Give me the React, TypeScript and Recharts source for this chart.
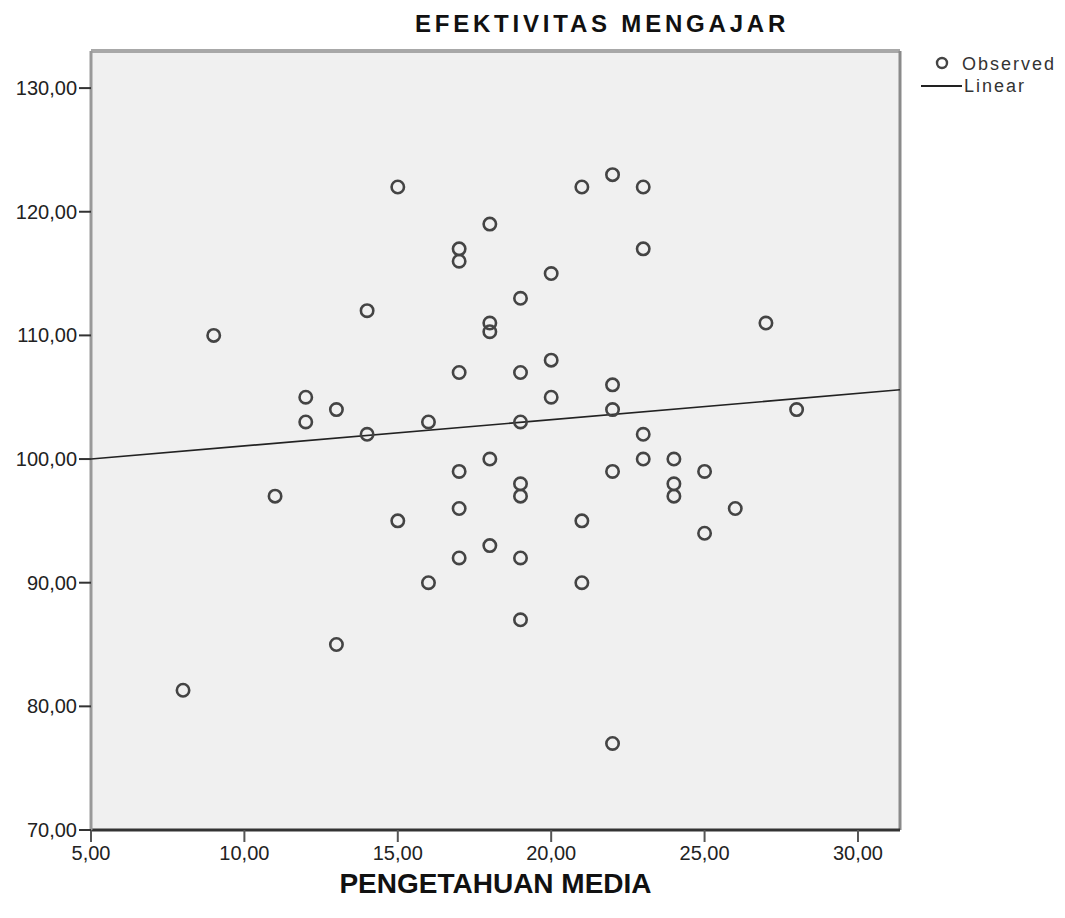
import React from 'react';
import {
  ScatterChart,
  Scatter,
  XAxis,
  YAxis,
  CartesianGrid,
  ReferenceLine,
} from 'recharts';

// PENGETAHUAN MEDIA (x) values for each observed case
const pengetahuanMedia = [
  8, 9, 11, 12, 12, 13, 13, 14, 14, 15, 15, 16, 16, 17, 17, 17, 17, 17, 17,
  18, 18, 18, 18, 18, 19, 19, 19, 19, 19, 19, 19, 20, 20, 20, 21, 21, 21,
  22, 22, 22, 22, 22, 23, 23, 23, 23, 24, 24, 24, 25, 25, 26, 27, 28,
];

// EFEKTIVITAS MENGAJAR (y) values for each observed case
const efektivitasMengajar = [
  81.3, 110, 97, 105, 103, 104, 85, 112, 102, 122, 95, 103, 90, 117, 116, 107, 99, 96, 92,
  119, 111, 110.3, 100, 93, 113, 107, 103, 98, 97, 92, 87, 115, 108, 105, 122, 95, 90,
  123, 106, 104, 99, 77, 122, 117, 102, 100, 100, 98, 97, 99, 94, 96, 111, 104,
];

// Linear fit line end points
const fitX = [5, 31.37];
const fitY = [100.0, 105.6];

const xTicks = [5, 10, 15, 20, 25, 30];
const yTicks = [70, 80, 90, 100, 110, 120, 130];
const xDomain = [5, 31.37];
const yDomain = [70, 133];

const observed = pengetahuanMedia.map((x, i) => ({ x, y: efektivitasMengajar[i] }));
const fitLine = fitX.map((x, i) => ({ x, y: fitY[i] }));

const fmt = (v: number) => v.toFixed(2).replace('.', ',');

const FONT = '"Liberation Sans", Arial, sans-serif';

const Ring = (props: any) => {
  const { cx, cy } = props;
  if (cx == null || cy == null) return <g />;
  return <circle cx={cx} cy={cy} r={6.2} fill="none" stroke="#444" strokeWidth={2.6} />;
};

const Empty = () => <g />;

const LegendBox = () => (
  <div
    style={{
      position: 'absolute',
      left: 915,
      top: 53,
      width: 150,
      fontFamily: FONT,
      fontSize: 18,
      color: '#333',
      letterSpacing: 2,
    }}
  >
    <div style={{ display: 'flex', alignItems: 'center', height: 22 }}>
      <svg width={47} height={22}>
        <circle cx={27} cy={10} r={5} fill="none" stroke="#444" strokeWidth={2.4} />
      </svg>
      <span>Observed</span>
    </div>
    <div style={{ display: 'flex', alignItems: 'center', height: 22 }}>
      <svg width={49} height={22}>
        <line x1={6} y1={11} x2={47} y2={11} stroke="#222" strokeWidth={2} />
      </svg>
      <span>Linear</span>
    </div>
  </div>
);

export default function App() {
  return (
    <div style={{ position: 'absolute', left: 0, top: 0, width: 1065, height: 918, background: '#fff' }}>
      <div
        style={{
          position: 'absolute',
          left: 402,
          top: 12,
          width: 400,
          textAlign: 'center',
          fontFamily: FONT,
          fontWeight: 'bold',
          fontSize: 24,
          lineHeight: '24px',
          letterSpacing: 3.8,
          color: '#111',
        }}
      >
        EFEKTIVITAS MENGAJAR
      </div>
      <LegendBox />
      <ScatterChart
        width={1065}
        height={918}
        margin={{ top: 51, right: 165, bottom: 0, left: 11 }}
      >
        <CartesianGrid fill="#f0f0f0" horizontal={false} vertical={false} />
        <XAxis
          type="number"
          dataKey="x"
          domain={xDomain}
          ticks={xTicks}
          allowDataOverflow
          tickFormatter={fmt}
          height={88}
          tickSize={12}
          tickMargin={4}
          axisLine={{ stroke: '#333', strokeWidth: 3 }}
          tickLine={{ stroke: '#555', strokeWidth: 2 }}
          tick={{ fontSize: 20, fill: '#222', fontFamily: FONT }}
          label={{
            value: 'PENGETAHUAN MEDIA',
            position: 'insideBottom',
            offset: 25,
            style: { fontSize: 28, fontWeight: 'bold', fill: '#111', fontFamily: FONT },
          }}
        />
        <YAxis
          type="number"
          dataKey="y"
          domain={yDomain}
          ticks={yTicks}
          allowDataOverflow
          tickFormatter={fmt}
          width={80}
          tickSize={12}
          tickMargin={2}
          axisLine={{ stroke: '#999', strokeWidth: 3 }}
          tickLine={{ stroke: '#333', strokeWidth: 2 }}
          tick={{ fontSize: 20, fill: '#222', fontFamily: FONT }}
        />
        <ReferenceLine y={133} stroke="#a8a8a8" strokeWidth={4} />
        <ReferenceLine x={31.37} stroke="#8a8a8a" strokeWidth={3} />
        <Scatter
          name="Linear"
          data={fitLine}
          line={{ stroke: '#222', strokeWidth: 1.6 }}
          shape={Empty}
          isAnimationActive={false}
        />
        <Scatter name="Observed" data={observed} shape={Ring} isAnimationActive={false} />
      </ScatterChart>
    </div>
  );
}
